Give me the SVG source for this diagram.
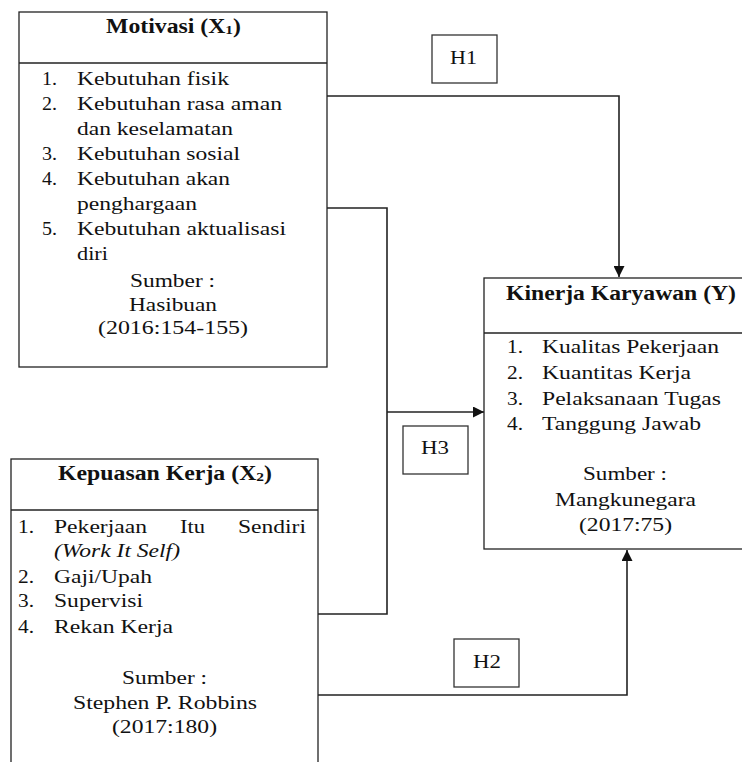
<svg xmlns="http://www.w3.org/2000/svg" width="742" height="762" viewBox="0 0 742 762">
<style>
text{font-family:"Liberation Serif","Times New Roman",serif;fill:#111;font-size:19px}
.t{font-weight:bold;font-size:20px}
.i{font-style:italic}
.box{fill:#fff;stroke:#222;stroke-width:1.3}
.div{stroke:#222;stroke-width:1.3;fill:none}
.lbl{fill:#fff;stroke:#333;stroke-width:1.3}
.c{fill:none;stroke:#222;stroke-width:1.6}
</style>
<defs>
<marker id="ah" markerUnits="userSpaceOnUse" markerWidth="11" markerHeight="11" refX="10" refY="5" orient="auto" viewBox="0 0 10 10">
<path d="M0,0 L10,5 L0,10 z" fill="#111"/>
</marker>
</defs>
<rect width="742" height="762" fill="#fff"/>

<g id="connectors">
<path class="c" d="M327,96 H619 V277" marker-end="url(#ah)"/>
<path class="c" d="M327,208 H387 V614 H318"/>
<path class="c" d="M387,412 H484" marker-end="url(#ah)"/>
<path class="c" d="M318,695 H627 V550" marker-end="url(#ah)"/>
</g>

<g id="motivasi">
<rect class="box" x="19" y="12" width="308" height="355"/>
<line class="div" x1="19" y1="63" x2="327" y2="63"/>
<text class="t" x="106" y="33" textLength="135" lengthAdjust="spacingAndGlyphs">Motivasi (X<tspan font-size="13" dy="1">1</tspan><tspan dy="-1">)</tspan></text>
<text x="42" y="85" textLength="15" lengthAdjust="spacingAndGlyphs">1.</text>
<text x="77" y="85" textLength="152" lengthAdjust="spacingAndGlyphs">Kebutuhan fisik</text>
<text x="42" y="110" textLength="15" lengthAdjust="spacingAndGlyphs">2.</text>
<text x="77" y="110" textLength="205" lengthAdjust="spacingAndGlyphs">Kebutuhan rasa aman</text>
<text x="77" y="135" textLength="156" lengthAdjust="spacingAndGlyphs">dan keselamatan</text>
<text x="42" y="160" textLength="15" lengthAdjust="spacingAndGlyphs">3.</text>
<text x="77" y="160" textLength="163" lengthAdjust="spacingAndGlyphs">Kebutuhan sosial</text>
<text x="42" y="185" textLength="15" lengthAdjust="spacingAndGlyphs">4.</text>
<text x="77" y="185" textLength="153" lengthAdjust="spacingAndGlyphs">Kebutuhan akan</text>
<text x="77" y="210" textLength="120" lengthAdjust="spacingAndGlyphs">penghargaan</text>
<text x="42" y="235" textLength="15" lengthAdjust="spacingAndGlyphs">5.</text>
<text x="77" y="235" textLength="209" lengthAdjust="spacingAndGlyphs">Kebutuhan aktualisasi</text>
<text x="77" y="260" textLength="31" lengthAdjust="spacingAndGlyphs">diri</text>
<text x="130" y="287" textLength="85" lengthAdjust="spacingAndGlyphs">Sumber :</text>
<text x="129" y="311" textLength="88" lengthAdjust="spacingAndGlyphs">Hasibuan</text>
<text x="98" y="334" textLength="150" lengthAdjust="spacingAndGlyphs">(2016:154-155)</text>
</g>

<g id="kinerja">
<rect class="box" x="484" y="278" width="280" height="271"/>
<line class="div" x1="484" y1="333" x2="764" y2="333"/>
<text class="t" x="506" y="300" textLength="230" lengthAdjust="spacingAndGlyphs">Kinerja Karyawan (Y)</text>
<text x="507" y="353" textLength="16" lengthAdjust="spacingAndGlyphs">1.</text>
<text x="542" y="353" textLength="177" lengthAdjust="spacingAndGlyphs">Kualitas Pekerjaan</text>
<text x="507" y="379" textLength="16" lengthAdjust="spacingAndGlyphs">2.</text>
<text x="542" y="379" textLength="149" lengthAdjust="spacingAndGlyphs">Kuantitas Kerja</text>
<text x="507" y="405" textLength="16" lengthAdjust="spacingAndGlyphs">3.</text>
<text x="542" y="405" textLength="179" lengthAdjust="spacingAndGlyphs">Pelaksanaan Tugas</text>
<text x="507" y="430" textLength="16" lengthAdjust="spacingAndGlyphs">4.</text>
<text x="542" y="430" textLength="159" lengthAdjust="spacingAndGlyphs">Tanggung Jawab</text>
<text x="583" y="480" textLength="84" lengthAdjust="spacingAndGlyphs">Sumber :</text>
<text x="555" y="506" textLength="141" lengthAdjust="spacingAndGlyphs">Mangkunegara</text>
<text x="579" y="531" textLength="93" lengthAdjust="spacingAndGlyphs">(2017:75)</text>
</g>

<g id="kepuasan">
<rect class="box" x="11" y="459" width="307" height="320"/>
<line class="div" x1="11" y1="510" x2="318" y2="510"/>
<text class="t" x="58" y="480" textLength="214" lengthAdjust="spacingAndGlyphs">Kepuasan Kerja (X<tspan font-size="13" dy="1">2</tspan><tspan dy="-1">)</tspan></text>
<text x="18" y="533" textLength="16" lengthAdjust="spacingAndGlyphs">1.</text>
<text x="54" y="533" textLength="93" lengthAdjust="spacingAndGlyphs">Pekerjaan</text>
<text x="180" y="533" textLength="25" lengthAdjust="spacingAndGlyphs">Itu</text>
<text x="238" y="533" textLength="68" lengthAdjust="spacingAndGlyphs">Sendiri</text>
<text class="i" x="54" y="557" textLength="126" lengthAdjust="spacingAndGlyphs">(Work It Self)</text>
<text x="18" y="583" textLength="16" lengthAdjust="spacingAndGlyphs">2.</text>
<text x="54" y="583" textLength="98" lengthAdjust="spacingAndGlyphs">Gaji/Upah</text>
<text x="18" y="607" textLength="16" lengthAdjust="spacingAndGlyphs">3.</text>
<text x="54" y="607" textLength="89" lengthAdjust="spacingAndGlyphs">Supervisi</text>
<text x="18" y="633" textLength="16" lengthAdjust="spacingAndGlyphs">4.</text>
<text x="54" y="633" textLength="119" lengthAdjust="spacingAndGlyphs">Rekan Kerja</text>
<text x="122" y="684" textLength="85" lengthAdjust="spacingAndGlyphs">Sumber :</text>
<text x="73" y="709" textLength="184" lengthAdjust="spacingAndGlyphs">Stephen P. Robbins</text>
<text x="112" y="733" textLength="105" lengthAdjust="spacingAndGlyphs">(2017:180)</text>
</g>

<g id="h1">
<rect class="lbl" x="432" y="35" width="65" height="48"/>
<text x="450" y="64" textLength="27" lengthAdjust="spacingAndGlyphs">H1</text>
</g>
<g id="h3">
<rect class="lbl" x="403" y="426" width="65" height="48"/>
<text x="421" y="454" textLength="28" lengthAdjust="spacingAndGlyphs">H3</text>
</g>
<g id="h2">
<rect class="lbl" x="454" y="639" width="65" height="48"/>
<text x="473" y="668" textLength="28" lengthAdjust="spacingAndGlyphs">H2</text>
</g>
</svg>
